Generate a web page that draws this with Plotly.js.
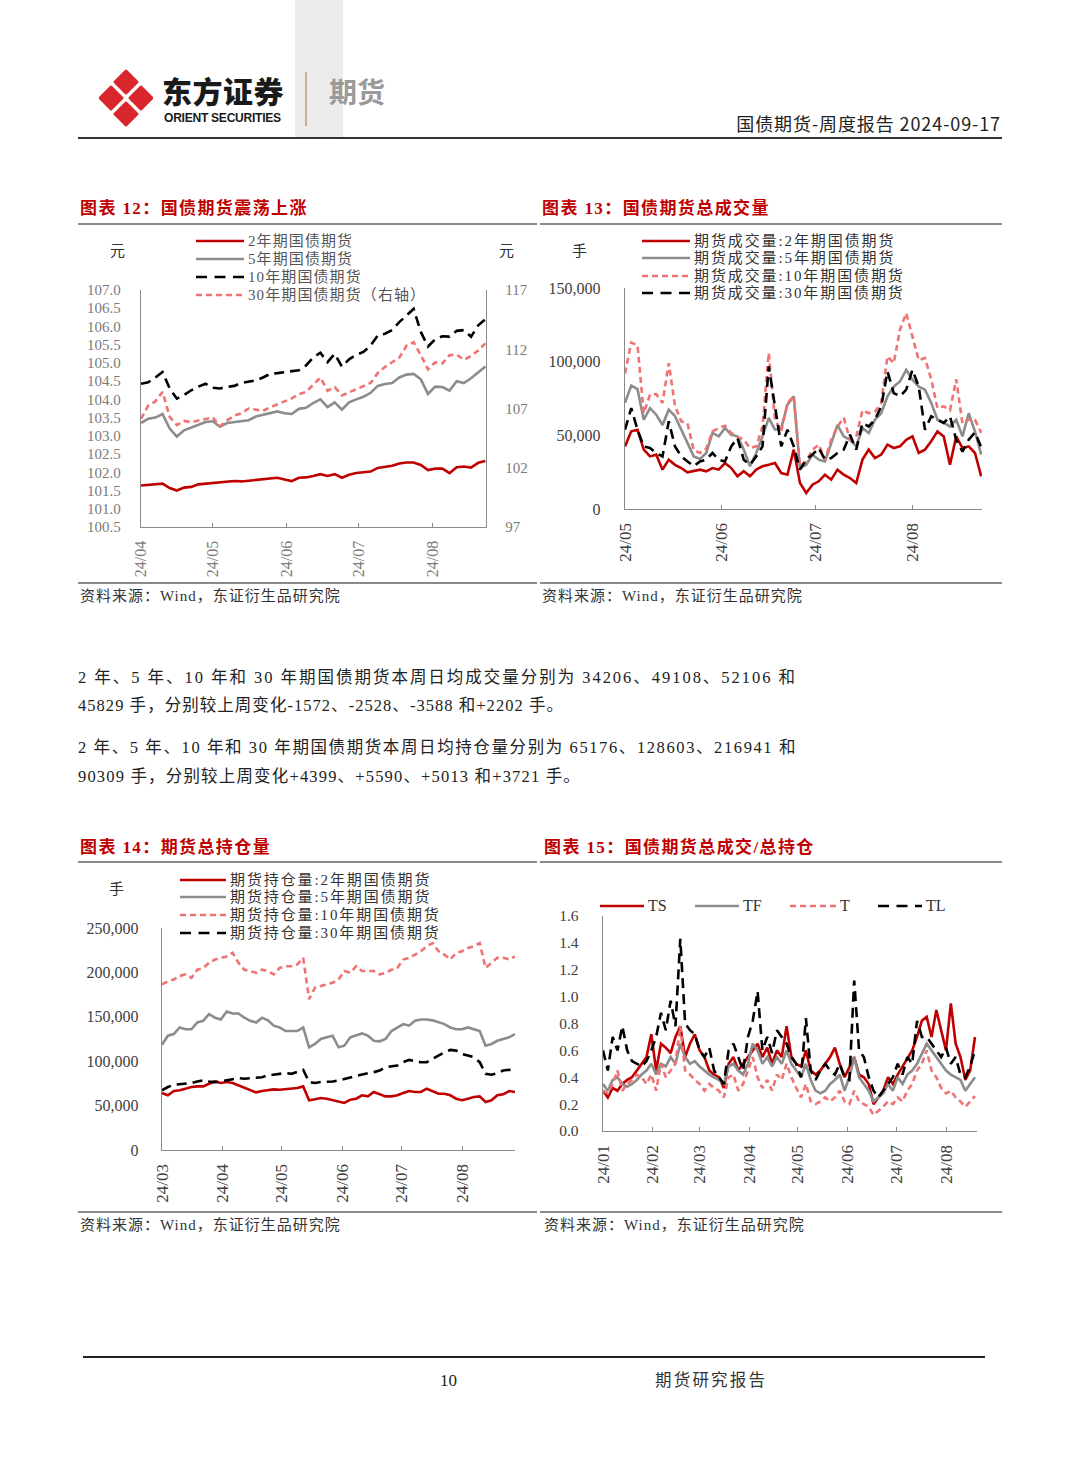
<!DOCTYPE html>
<html><head><meta charset="utf-8">
<script src="https://cdn.plot.ly/plotly-3.0.1.min.js"></script>
<style>
body{margin:0;background:#fff;}
#page{position:relative;width:1080px;height:1466px;overflow:hidden;background:#fff;font-family:'Liberation Serif','Noto Sans CJK SC',serif;color:#222;}
.abs{position:absolute;}
.rule{position:absolute;height:1.6px;background:#8a8a8a;}
.ctitle{position:absolute;color:#c00000;font-family:'Liberation Serif','Noto Sans CJK SC',serif;font-weight:700;font-size:17px;letter-spacing:1.4px;white-space:nowrap;line-height:20px;}
.src{position:absolute;font-size:15px;letter-spacing:1px;color:#333;white-space:nowrap;line-height:18px;}
.para{position:absolute;left:78px;font-size:16.5px;color:#222;white-space:nowrap;line-height:20px;}
.lrow{position:absolute;height:18px;display:flex;align-items:center;white-space:nowrap;font-size:15px;line-height:18px;}
.lrow svg{flex:none;margin-right:4px;}
.unit{position:absolute;font-size:15px;color:#333;line-height:16px;}
.chart{position:absolute;}
</style>
</head><body><div id="page">

<!-- header -->
<div class="abs" style="left:295px;top:0;width:48px;height:138px;background:#ebebeb"></div>
<svg class="abs" style="left:99px;top:69px" width="54" height="58" viewBox="0 0 54 58">
  <g fill="#d9262c" stroke="#d9262c" stroke-width="3" stroke-linejoin="round">
    <polygon points="27,2 38,13 27,24 16,13"/>
    <polygon points="12,18 23,29 12,40 1,29"/>
    <polygon points="42,18 53,29 42,40 31,29"/>
    <polygon points="27,34 38,45 27,56 16,45"/>
  </g>
</svg>
<div class="abs" style="left:162px;top:77px;font-family:'Liberation Sans','Noto Sans CJK SC',sans-serif;font-weight:900;font-size:30px;line-height:32px;color:#1a1a1a;letter-spacing:0.5px;white-space:nowrap">东方证券</div>
<div class="abs" style="left:164px;top:110.5px;font-family:'Liberation Sans Narrow','Liberation Sans',sans-serif;font-weight:700;font-size:13px;line-height:14px;color:#1a1a1a;letter-spacing:-0.3px;transform:scaleX(0.93);transform-origin:0 0;white-space:nowrap">ORIENT SECURITIES</div>
<div class="abs" style="left:305px;top:72px;width:1.5px;height:54px;background:#c9b48a"></div>
<div class="abs" style="left:329px;top:74px;font-family:'Noto Sans CJK SC';font-weight:700;font-size:28px;line-height:34px;color:#9a9a9a">期货</div>
<div class="abs" style="right:79px;top:112px;font-family:'Noto Sans CJK SC';font-size:18px;line-height:22px;color:#222;letter-spacing:0.9px;white-space:nowrap">国债期货-周度报告 2024-09-17</div>
<div class="abs" style="left:78px;top:137px;width:924px;height:1.6px;background:#333"></div>

<!-- chart titles row 1 -->
<div class="ctitle" style="left:80px;top:199px">图表 12：国债期货震荡上涨</div>
<div class="ctitle" style="left:542px;top:199px">图表 13：国债期货总成交量</div>
<div class="rule" style="left:78px;top:223px;width:459px"></div>
<div class="rule" style="left:540px;top:223px;width:462px"></div>

<div id="c12" class="chart" style="left:78px;top:228px"></div>
<div id="c13" class="chart" style="left:540px;top:228px"></div>

<div class="rule" style="left:78px;top:582px;width:459px"></div>
<div class="rule" style="left:540px;top:582px;width:462px"></div>
<div class="src" style="left:80px;top:587px">资料来源：Wind，东证衍生品研究院</div>
<div class="src" style="left:542px;top:587px">资料来源：Wind，东证衍生品研究院</div>

<!-- legends chart 12 -->
<div class="unit" style="left:110px;top:243px">元</div>
<div class="unit" style="left:499px;top:243px">元</div>
<div class="lrow" style="left:196px;top:232px;color:#555;letter-spacing:1.1px"><svg width="48" height="6"><line x1="0" y1="3" x2="48" y2="3" stroke="#c00000" stroke-width="2.6"/></svg><span>2年期国债期货</span></div>
<div class="lrow" style="left:196px;top:250px;color:#555;letter-spacing:1.1px"><svg width="48" height="6"><line x1="0" y1="3" x2="48" y2="3" stroke="#8c8c8c" stroke-width="2.6"/></svg><span>5年期国债期货</span></div>
<div class="lrow" style="left:196px;top:268px;color:#555;letter-spacing:1.1px"><svg width="48" height="6"><line x1="0" y1="3" x2="48" y2="3" stroke="#000" stroke-width="2.6" stroke-dasharray="11,7.5"/></svg><span>10年期国债期货</span></div>
<div class="lrow" style="left:196px;top:286px;color:#555;letter-spacing:1.1px"><svg width="48" height="6"><line x1="0" y1="3" x2="48" y2="3" stroke="#f07272" stroke-width="2.6" stroke-dasharray="6,4"/></svg><span>30年期国债期货（右轴）</span></div>

<!-- legends chart 13 -->
<div class="unit" style="left:572px;top:243px">手</div>
<div class="lrow" style="left:642px;top:232px;color:#333;letter-spacing:1.9px"><svg width="48" height="6"><line x1="0" y1="3" x2="48" y2="3" stroke="#c00000" stroke-width="2.6"/></svg><span>期货成交量:2年期国债期货</span></div>
<div class="lrow" style="left:642px;top:249px;color:#333;letter-spacing:1.9px"><svg width="48" height="6"><line x1="0" y1="3" x2="48" y2="3" stroke="#8c8c8c" stroke-width="2.6"/></svg><span>期货成交量:5年期国债期货</span></div>
<div class="lrow" style="left:642px;top:267px;color:#333;letter-spacing:1.9px"><svg width="48" height="6"><line x1="0" y1="3" x2="48" y2="3" stroke="#f07272" stroke-width="2.6" stroke-dasharray="6,4"/></svg><span>期货成交量:10年期国债期货</span></div>
<div class="lrow" style="left:642px;top:284px;color:#333;letter-spacing:1.9px"><svg width="48" height="6"><line x1="0" y1="3" x2="48" y2="3" stroke="#000" stroke-width="2.6" stroke-dasharray="11,7.5"/></svg><span>期货成交量:30年期国债期货</span></div>

<!-- paragraphs -->
<div class="para" id="p1" style="top:668px">2 年、5 年、10 年和 30 年期国债期货本周日均成交量分别为 34206、49108、52106 和</div>
<div class="para" id="p2" style="top:696px">45829 手，分别较上周变化-1572、-2528、-3588 和+2202 手。</div>
<div class="para" id="p3" style="top:738px">2 年、5 年、10 年和 30 年期国债期货本周日均持仓量分别为 65176、128603、216941 和</div>
<div class="para" id="p4" style="top:767px">90309 手，分别较上周变化+4399、+5590、+5013 和+3721 手。</div>

<!-- chart titles row 2 -->
<div class="ctitle" style="left:80px;top:838px">图表 14：期货总持仓量</div>
<div class="ctitle" style="left:544px;top:838px">图表 15：国债期货总成交/总持仓</div>
<div class="rule" style="left:78px;top:861px;width:459px"></div>
<div class="rule" style="left:540px;top:861px;width:462px"></div>

<div id="c14" class="chart" style="left:78px;top:866px"></div>
<div id="c15" class="chart" style="left:540px;top:866px"></div>

<div class="rule" style="left:78px;top:1211px;width:459px"></div>
<div class="rule" style="left:540px;top:1211px;width:462px"></div>
<div class="src" style="left:80px;top:1216px">资料来源：Wind，东证衍生品研究院</div>
<div class="src" style="left:544px;top:1216px">资料来源：Wind，东证衍生品研究院</div>

<!-- legends chart 14 -->
<div class="unit" style="left:109px;top:881px">手</div>
<div class="lrow" style="left:180px;top:871px;color:#333;letter-spacing:1.9px"><svg width="46" height="6"><line x1="0" y1="3" x2="46" y2="3" stroke="#c00000" stroke-width="2.6"/></svg><span>期货持仓量:2年期国债期货</span></div>
<div class="lrow" style="left:180px;top:888px;color:#333;letter-spacing:1.9px"><svg width="46" height="6"><line x1="0" y1="3" x2="46" y2="3" stroke="#8c8c8c" stroke-width="2.6"/></svg><span>期货持仓量:5年期国债期货</span></div>
<div class="lrow" style="left:180px;top:906px;color:#333;letter-spacing:1.9px"><svg width="46" height="6"><line x1="0" y1="3" x2="46" y2="3" stroke="#f07272" stroke-width="2.6" stroke-dasharray="6,4"/></svg><span>期货持仓量:10年期国债期货</span></div>
<div class="lrow" style="left:180px;top:924px;color:#333;letter-spacing:1.9px"><svg width="46" height="6"><line x1="0" y1="3" x2="46" y2="3" stroke="#000" stroke-width="2.6" stroke-dasharray="11,7.5"/></svg><span>期货持仓量:30年期国债期货</span></div>

<!-- legend chart 15 -->
<div class="lrow" style="left:600px;top:897px;color:#333;font-size:16px"><svg width="44" height="6"><line x1="0" y1="3" x2="44" y2="3" stroke="#c00000" stroke-width="2.6"/></svg><span>TS</span></div>
<div class="lrow" style="left:695px;top:897px;color:#333;font-size:16px"><svg width="44" height="6"><line x1="0" y1="3" x2="44" y2="3" stroke="#8c8c8c" stroke-width="2.6"/></svg><span>TF</span></div>
<div class="lrow" style="left:790px;top:897px;color:#333;font-size:16px"><svg width="46" height="6"><line x1="0" y1="3" x2="46" y2="3" stroke="#f07272" stroke-width="2.6" stroke-dasharray="6,4"/></svg><span>T</span></div>
<div class="lrow" style="left:878px;top:897px;color:#333;font-size:16px"><svg width="44" height="6"><line x1="0" y1="3" x2="44" y2="3" stroke="#000" stroke-width="2.6" stroke-dasharray="11,7.5"/></svg><span>TL</span></div>

<!-- footer -->
<div class="abs" style="left:83px;top:1356px;width:902px;height:1.6px;background:#222"></div>
<div class="abs" style="left:440px;top:1371px;font-size:17px;line-height:20px;color:#222">10</div>
<div class="abs" style="left:655px;top:1371px;font-size:16.5px;line-height:20px;color:#333;letter-spacing:2.2px;white-space:nowrap">期货研究报告</div>

</div>
<script>
// ---------- Chart 12: 国债期货价格 ----------
const dates12 = ['2024-04-01','2024-04-04','2024-04-07','2024-04-10','2024-04-13','2024-04-16','2024-04-19','2024-04-22','2024-04-25','2024-04-28',
 '2024-05-01','2024-05-04','2024-05-07','2024-05-10','2024-05-13','2024-05-16','2024-05-19','2024-05-22','2024-05-25','2024-05-28','2024-05-31',
 '2024-06-03','2024-06-06','2024-06-09','2024-06-12','2024-06-15','2024-06-18','2024-06-21','2024-06-24','2024-06-27','2024-06-30',
 '2024-07-03','2024-07-06','2024-07-09','2024-07-12','2024-07-15','2024-07-18','2024-07-21','2024-07-24','2024-07-27','2024-07-30',
 '2024-08-02','2024-08-05','2024-08-08','2024-08-11','2024-08-14','2024-08-17','2024-08-20','2024-08-23'];
const price2y = [101.64,101.66,101.67,101.69,101.57,101.50,101.58,101.60,101.67,101.69,
 101.71,101.73,101.74,101.76,101.75,101.77,101.79,101.80,101.84,101.85,101.80,
 101.76,101.85,101.86,101.90,101.95,101.90,101.95,101.85,101.93,101.98,
 102.00,102.02,102.12,102.15,102.18,102.24,102.27,102.27,102.20,102.06,
 102.10,102.10,101.98,102.14,102.16,102.13,102.26,102.31];
const price5y = [103.35,103.47,103.50,103.60,103.20,102.98,103.15,103.22,103.30,103.38,
 103.40,103.25,103.35,103.37,103.40,103.43,103.53,103.58,103.62,103.67,103.62,
 103.60,103.74,103.77,103.90,104.00,103.79,103.92,103.72,103.92,104.00,
 104.07,104.18,104.37,104.42,104.45,104.60,104.68,104.70,104.55,104.15,
 104.35,104.34,104.24,104.50,104.45,104.58,104.75,104.90];
const price10y = [104.43,104.47,104.60,104.75,104.30,104.02,104.12,104.25,104.35,104.43,
 104.32,104.30,104.34,104.37,104.45,104.48,104.52,104.60,104.70,104.72,104.75,
 104.77,104.80,104.93,105.15,105.28,105.02,105.25,104.90,105.10,105.22,
 105.30,105.48,105.75,105.80,105.90,106.12,106.30,106.48,105.85,105.45,
 105.65,105.73,105.72,105.88,105.90,105.72,106.03,106.20];
const price30y = [106.13,107.25,107.60,108.40,106.30,105.60,105.95,105.85,105.98,106.10,
 106.25,105.50,106.00,106.40,106.60,107.00,106.90,106.80,107.10,107.35,107.60,
 107.85,108.20,108.40,109.00,109.60,108.50,108.80,108.10,108.35,108.60,
 108.85,109.15,110.00,110.50,110.90,111.30,112.30,112.60,111.50,110.30,
 110.90,110.80,111.50,111.55,111.10,111.45,111.90,112.50];
const ticks12 = ['2024-04-01','2024-05-01','2024-06-01','2024-07-01','2024-08-01'];
const labels12 = ['24/04','24/05','24/06','24/07','24/08'];

// ---------- Chart 13: 成交量 ----------
const dates13 = ['2024-05-01','2024-05-03','2024-05-05','2024-05-07','2024-05-09','2024-05-11','2024-05-13','2024-05-15','2024-05-17','2024-05-19','2024-05-21','2024-05-23','2024-05-25','2024-05-27','2024-05-29','2024-05-31',
 '2024-06-02','2024-06-04','2024-06-06','2024-06-08','2024-06-10','2024-06-12','2024-06-14','2024-06-16','2024-06-18','2024-06-20','2024-06-22','2024-06-24','2024-06-26','2024-06-28','2024-06-30',
 '2024-07-02','2024-07-04','2024-07-06','2024-07-08','2024-07-10','2024-07-12','2024-07-14','2024-07-16','2024-07-18','2024-07-20','2024-07-22','2024-07-24','2024-07-26','2024-07-28','2024-07-30',
 '2024-08-01','2024-08-03','2024-08-05','2024-08-07','2024-08-09','2024-08-11','2024-08-13','2024-08-15','2024-08-17','2024-08-19','2024-08-21','2024-08-23'];
const vol2y = [42500,52700,53800,40300,35700,36900,26700,33500,30000,27800,24900,25600,26700,25600,27800,26700,
 31200,27800,22200,25600,22200,26700,29000,30000,31200,24400,23300,40300,17600,10900,16500,
 18800,23300,19900,26700,23300,21000,17600,33500,40300,34600,36900,43700,41400,42500,47000,
 49300,38000,40300,46000,52700,49300,30000,49300,41400,42500,38000,22200];
const vol5y = [72000,83700,81400,60600,68500,64000,57000,67400,63000,54000,44800,35700,34000,38000,51600,49300,
 55000,50400,49300,40300,29000,38000,49300,61800,53800,55000,70800,76500,27800,30000,36900,
 33500,32300,44800,57000,49300,47000,42500,55000,51600,60600,65000,76500,83000,86600,94500,
 87800,83000,81000,72000,60600,58400,56000,60600,49300,65000,52700,36900];
const vol10y = [92000,113000,111000,65000,77600,78000,72000,99000,70000,59500,58000,40000,38000,41000,52700,55000,
 56500,51600,49000,47000,41400,42500,56000,106000,60600,52700,72000,76500,29000,32300,40300,
 43700,33500,47000,56000,62000,47000,49000,67000,65000,66000,72000,103600,99000,121700,133000,
 117000,101000,102500,88000,68500,69700,67000,88000,58000,60600,60600,51600];
const vol30y = [53800,68500,53800,42500,41400,38000,35700,59500,42500,35700,32300,29000,32300,33500,38000,33500,
 32300,42500,48200,33500,30000,35700,42500,96800,69700,42500,53800,42500,26700,33500,36900,
 41400,33500,34600,38000,40300,50400,40300,58400,56000,60600,69700,93400,78700,76500,81000,
 94500,83000,53800,62900,60600,58400,62900,47000,39000,47000,52000,42000];
const ticks13 = ['2024-05-01','2024-06-01','2024-07-01','2024-08-01'];
const labels13 = ['24/05','24/06','24/07','24/08'];

// ---------- Chart 14: 持仓量 ----------
const dates14 = ['2024-03-01','2024-03-04','2024-03-07','2024-03-10','2024-03-13','2024-03-16','2024-03-19','2024-03-22','2024-03-25','2024-03-28','2024-03-31',
 '2024-04-03','2024-04-06','2024-04-09','2024-04-12','2024-04-15','2024-04-18','2024-04-21','2024-04-24','2024-04-27','2024-04-30',
 '2024-05-03','2024-05-06','2024-05-09','2024-05-12','2024-05-15','2024-05-18','2024-05-21','2024-05-24','2024-05-27','2024-05-30',
 '2024-06-02','2024-06-05','2024-06-08','2024-06-11','2024-06-14','2024-06-17','2024-06-20','2024-06-23','2024-06-26','2024-06-29',
 '2024-07-02','2024-07-05','2024-07-08','2024-07-11','2024-07-14','2024-07-17','2024-07-20','2024-07-23','2024-07-26','2024-07-29',
 '2024-08-01','2024-08-04','2024-08-07','2024-08-10','2024-08-13','2024-08-16','2024-08-19','2024-08-22','2024-08-25','2024-08-28'];
const oi2y = [64200,61600,66400,67200,69000,70900,71600,71600,74600,77200,75400,
 76500,75400,72800,69800,67200,64900,66400,67200,68300,67900,
 68700,69000,69800,71600,56000,57100,58600,57800,56000,54100,
 53000,56700,57800,61600,60400,65300,62700,60400,60400,61600,
 64200,66400,65300,65300,69000,66400,63400,63400,61600,57800,
 56000,57800,59700,60400,54100,56000,61600,62700,66400,65300];
const oi5y = [118600,128700,130600,138000,136000,136000,143600,145500,153000,149000,147000,
 156000,153700,153700,149000,145500,143600,149000,146000,140000,138000,
 134000,134000,134000,138000,115700,119400,125000,126900,128700,115700,
 117500,126900,128700,131300,128700,123000,122400,125000,134000,138000,
 141800,140000,145500,147000,147000,146000,143600,141800,138000,136000,
 136000,138000,136000,134000,117500,119400,123000,125000,126900,130600];
const oi10y = [186500,190000,192000,196000,197700,194000,203000,205000,210800,214500,216400,
 218000,222000,210800,203000,201500,199600,203000,201500,197700,205000,
 207000,207000,209000,216400,169800,182800,184700,186500,188400,192000,
 201500,199600,207000,201500,201500,201500,197700,199600,203000,205000,
 214500,216400,220000,223900,229500,233000,223900,220000,214500,222000,
 223900,227600,229500,233000,205000,210800,216400,216400,214500,218000];
const oi30y = [67200,70900,73500,73900,74600,75400,77200,78400,77200,76500,77200,
 78400,80200,81000,80200,81000,81300,82000,84000,84700,85800,
 86600,85800,88400,90300,76500,75400,76500,76500,77200,78400,
 80200,82000,83600,85000,86600,87700,89500,93300,94000,95100,
 98900,101500,100000,98900,98900,102600,106300,110000,112700,111900,
 108200,106300,104500,98900,85800,84700,86600,89500,90300,89500];
const ticks14 = ['2024-03-01','2024-04-01','2024-05-01','2024-06-01','2024-07-01','2024-08-01'];
const labels14 = ['24/03','24/04','24/05','24/06','24/07','24/08'];

// ---------- Chart 15: 成交/持仓 ----------
const dates15 = ['2024-01-01','2024-01-04','2024-01-07','2024-01-10','2024-01-13','2024-01-16','2024-01-19','2024-01-22','2024-01-25','2024-01-28','2024-01-31',
 '2024-02-03','2024-02-06','2024-02-09','2024-02-12','2024-02-15','2024-02-18','2024-02-21','2024-02-24','2024-02-27',
 '2024-03-01','2024-03-04','2024-03-07','2024-03-10','2024-03-13','2024-03-16','2024-03-19','2024-03-22','2024-03-25','2024-03-28','2024-03-31',
 '2024-04-03','2024-04-06','2024-04-09','2024-04-12','2024-04-15','2024-04-18','2024-04-21','2024-04-24','2024-04-27','2024-04-30',
 '2024-05-03','2024-05-06','2024-05-09','2024-05-12','2024-05-15','2024-05-18','2024-05-21','2024-05-24','2024-05-27','2024-05-30',
 '2024-06-02','2024-06-05','2024-06-08','2024-06-11','2024-06-14','2024-06-17','2024-06-20','2024-06-23','2024-06-26','2024-06-29',
 '2024-07-02','2024-07-05','2024-07-08','2024-07-11','2024-07-14','2024-07-17','2024-07-20','2024-07-23','2024-07-26','2024-07-29',
 '2024-08-01','2024-08-04','2024-08-07','2024-08-10','2024-08-13','2024-08-16','2024-08-19'];
const ratioTS = [0.30,0.25,0.32,0.30,0.35,0.38,0.40,0.45,0.50,0.55,0.72,
 0.45,0.65,0.62,0.58,0.70,0.78,0.55,0.65,0.72,
 0.60,0.55,0.45,0.42,0.40,0.32,0.50,0.55,0.45,0.50,0.55,
 0.60,0.65,0.55,0.62,0.50,0.60,0.55,0.78,0.55,0.50,
 0.48,0.60,0.45,0.42,0.45,0.50,0.55,0.62,0.50,0.40,
 0.48,0.55,0.42,0.40,0.35,0.20,0.25,0.30,0.40,0.35,
 0.42,0.48,0.55,0.60,0.70,0.82,0.85,0.70,0.90,0.75,
 0.60,0.95,0.65,0.55,0.38,0.45,0.70];
const ratioTF = [0.35,0.30,0.38,0.40,0.35,0.33,0.35,0.38,0.42,0.45,0.50,
 0.42,0.50,0.48,0.55,0.50,0.65,0.55,0.50,0.52,
 0.48,0.45,0.42,0.40,0.38,0.35,0.48,0.50,0.45,0.42,0.50,
 0.65,0.60,0.50,0.55,0.48,0.55,0.50,0.60,0.50,0.45,
 0.40,0.50,0.38,0.30,0.28,0.30,0.35,0.38,0.42,0.30,
 0.40,0.55,0.40,0.35,0.30,0.22,0.25,0.28,0.35,0.30,
 0.40,0.35,0.42,0.45,0.50,0.58,0.65,0.60,0.55,0.50,
 0.45,0.42,0.40,0.38,0.30,0.35,0.40];
const ratioT = [0.30,0.28,0.35,0.45,0.30,0.35,0.38,0.42,0.40,0.35,0.42,
 0.30,0.50,0.40,0.45,0.50,0.78,0.45,0.42,0.38,
 0.35,0.30,0.35,0.32,0.30,0.25,0.40,0.42,0.30,0.35,0.45,
 0.55,0.40,0.32,0.38,0.30,0.42,0.38,0.50,0.40,0.32,
 0.25,0.35,0.22,0.20,0.22,0.25,0.22,0.25,0.30,0.22,
 0.20,0.30,0.22,0.20,0.18,0.12,0.15,0.18,0.22,0.20,
 0.25,0.22,0.30,0.35,0.45,0.50,0.60,0.45,0.40,0.32,
 0.28,0.30,0.25,0.22,0.18,0.22,0.26];
const ratioTL = [0.60,0.45,0.70,0.60,0.78,0.60,0.52,0.50,0.48,0.52,0.60,
 0.70,0.88,0.75,0.97,0.78,1.43,0.80,0.75,0.72,
 0.60,0.55,0.62,0.45,0.40,0.35,0.60,0.65,0.55,0.45,0.70,
 0.82,1.04,0.60,0.70,0.58,0.75,0.70,0.65,0.55,0.50,
 0.40,0.84,0.45,0.38,0.45,0.50,0.45,0.42,0.50,0.40,
 0.38,1.12,0.60,0.55,0.40,0.30,0.25,0.30,0.35,0.40,
 0.50,0.42,0.55,0.50,0.82,0.70,0.70,0.65,0.60,0.55,
 0.62,0.50,0.55,0.42,0.40,0.48,0.60];
const ticks15 = ['2024-01-01','2024-02-01','2024-03-01','2024-04-01','2024-05-01','2024-06-01','2024-07-01','2024-08-01'];
const labels15 = ['24/01','24/02','24/03','24/04','24/05','24/06','24/07','24/08'];

// ---------- paragraph spacing (fit each line to its width in the reference) ----------
function fitLine(id, target){
  const el = document.getElementById(id);
  el.style.letterSpacing = '0px';
  const w = el.getBoundingClientRect().width;
  const ls = (target - w) / el.textContent.length;
  el.style.letterSpacing = ls + 'px';
}
fitLine('p1', 719);
fitLine('p2', 486);
fitLine('p3', 719);
fitLine('p4', 503);

// ---------- styling ----------
const SERIF = "'Liberation Serif','Noto Sans CJK SC',serif";
const RED = '#c00000', GREY = '#8c8c8c', PINK = '#f07272', BLACK = '#000000';
const AXC = '#8a8a8a';
const LONGDASH = '10px,6px', SHORTDASH = '6px,4px';
const cfg = {staticPlot:true, displayModeBar:false};

function line(x, y, name, color, dash, extra){
  return Object.assign({x:x, y:y, name:name, type:'scatter', mode:'lines',
    line:{color:color, width:2.6, dash:dash||'solid'}, hoverinfo:'skip'}, extra||{});
}
function xAxis(range, tv, tt, col, size){
  return {type:'date', range:range, tickvals:tv, ticktext:tt, tickangle:-90,
    ticks:'inside', ticklen:4, tickcolor:AXC, showline:true, linecolor:AXC, linewidth:1.3,
    showgrid:false, zeroline:false, tickfont:{family:SERIF, size:size, color:col}, ticklabelstandoff:6, fixedrange:true};
}
function yAxis(range, dtick, fmt, col, size, standoff){
  return {range:range, dtick:dtick, tick0:range[0], tickformat:fmt, showline:true, linecolor:AXC, linewidth:1.3,
    ticks:'', showgrid:false, zeroline:false, tickfont:{family:SERIF, size:size, color:col}, ticklabelstandoff:standoff, fixedrange:true};
}
function base(w, h, m){
  return {width:w, height:h, margin:m, autosize:false, showlegend:false,
    paper_bgcolor:'rgba(0,0,0,0)', plot_bgcolor:'rgba(0,0,0,0)', font:{family:SERIF}};
}

// chart 12
{
  const L = base(460, 355, {l:63.3, r:52, t:61.5, b:56.3, pad:0});
  L.xaxis = xAxis(['2024-04-01','2024-08-23 06:00'], ticks12, labels12, '#7a7a7a', 16);
  L.yaxis = yAxis([100.5, 107.0], 0.5, '.1f', '#7a7a7a', 15, 16);
  L.yaxis2 = Object.assign(yAxis([97, 117], 5, 'd', '#7a7a7a', 15, 15), {overlaying:'y', side:'right'});
  Plotly.newPlot('c12', [
    line(dates12, price2y, '2年期国债期货', RED),
    line(dates12, price5y, '5年期国债期货', GREY),
    line(dates12, price10y, '10年期国债期货', BLACK, LONGDASH),
    line(dates12, price30y, '30年期国债期货（右轴）', PINK, SHORTDASH, {yaxis:'y2'})
  ], L, cfg);
}
// chart 13
{
  const L = base(462, 355, {l:85, r:20.3, t:60.3, b:74, pad:0});
  L.xaxis = xAxis(['2024-05-01','2024-08-23 06:00'], ticks13, labels13, '#404040', 17);
  L.yaxis = yAxis([0, 150000], 50000, ',d', '#404040', 16, 20);
  Plotly.newPlot('c13', [
    line(dates13, vol2y, '期货成交量:2年期国债期货', RED),
    line(dates13, vol5y, '期货成交量:5年期国债期货', GREY),
    line(dates13, vol10y, '期货成交量:10年期国债期货', PINK, SHORTDASH),
    line(dates13, vol30y, '期货成交量:30年期国债期货', BLACK, LONGDASH)
  ], L, cfg);
}
// chart 14
{
  const L = base(460, 346, {l:84, r:22.7, t:61.5, b:62, pad:0});
  L.xaxis = xAxis(['2024-03-01','2024-08-28'], ticks14, labels14, '#404040', 17);
  L.yaxis = yAxis([0, 250000], 50000, ',d', '#404040', 16, 19);
  Plotly.newPlot('c14', [
    line(dates14, oi2y, '期货持仓量:2年期国债期货', RED),
    line(dates14, oi5y, '期货持仓量:5年期国债期货', GREY),
    line(dates14, oi10y, '期货持仓量:10年期国债期货', PINK, SHORTDASH),
    line(dates14, oi30y, '期货持仓量:30年期国债期货', BLACK, LONGDASH)
  ], L, cfg);
}
// chart 15
{
  const L = base(462, 346, {l:63.3, r:24.7, t:49.8, b:81, pad:0});
  L.xaxis = xAxis(['2024-01-01','2024-08-20 06:00'], ticks15, labels15, '#404040', 17);
  L.yaxis = yAxis([0, 1.6], 0.2, '.1f', '#404040', 15.5, 20);
  Plotly.newPlot('c15', [
    line(dates15, ratioTS, 'TS', RED),
    line(dates15, ratioTF, 'TF', GREY),
    line(dates15, ratioT, 'T', PINK, SHORTDASH),
    line(dates15, ratioTL, 'TL', BLACK, LONGDASH)
  ], L, cfg);
}
</script>
</body></html>
